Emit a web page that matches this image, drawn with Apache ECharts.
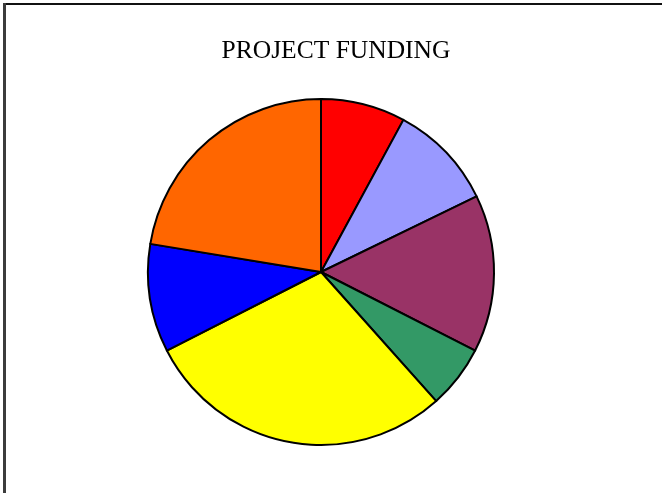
<!DOCTYPE html>
<html>
<head>
<meta charset="utf-8">
<script src="https://cdn.jsdelivr.net/npm/echarts@6/dist/echarts.min.js"></script>
<style>
  html, body { margin: 0; padding: 0; background: #fff; }
  #chart { width: 662px; height: 493px; }
</style>
</head>
<body>
<div id="chart"></div>
<script>
// Funding shares per project, clockwise from 12 o'clock
const projects = ['Project A', 'Project B', 'Project C', 'Project D', 'Project E', 'Project F', 'Project G'];
const funding = [7.9, 9.9, 14.7, 5.9, 29.1, 10.1, 22.4];
const sliceColors = ['#FF0000', '#9999FF', '#993366', '#339966', '#FFFF00', '#0000FF', '#FF6600'];

const chart = echarts.init(document.getElementById('chart'), null, { renderer: 'canvas' });

chart.setOption({
  animation: false,
  backgroundColor: '#ffffff',
  title: {
    text: 'PROJECT FUNDING',
    left: 331,
    textAlign: 'center',
    top: 33,
    textStyle: {
      fontFamily: '"Liberation Serif", "DejaVu Serif", serif',
      fontWeight: 'normal',
      fontSize: 25.5,
      color: '#000'
    }
  },
  graphic: [
    { type: 'rect', shape: { x: 3, y: 3, width: 659, height: 2 }, style: { fill: '#111' }, silent: true },
    { type: 'rect', shape: { x: 3, y: 3, width: 3, height: 490 }, style: { fill: '#3c3c3c' }, silent: true }
  ],
  series: [{
    type: 'pie',
    center: [321, 272],
    radius: 173,
    startAngle: 90,
    clockwise: true,
    label: { show: false },
    labelLine: { show: false },
    emphasis: { disabled: true },
    itemStyle: { borderColor: '#000', borderWidth: 2 },
    data: projects.map((name, i) => ({
      name,
      value: funding[i],
      itemStyle: { color: sliceColors[i] }
    }))
  }]
});
</script>
</body>
</html>
